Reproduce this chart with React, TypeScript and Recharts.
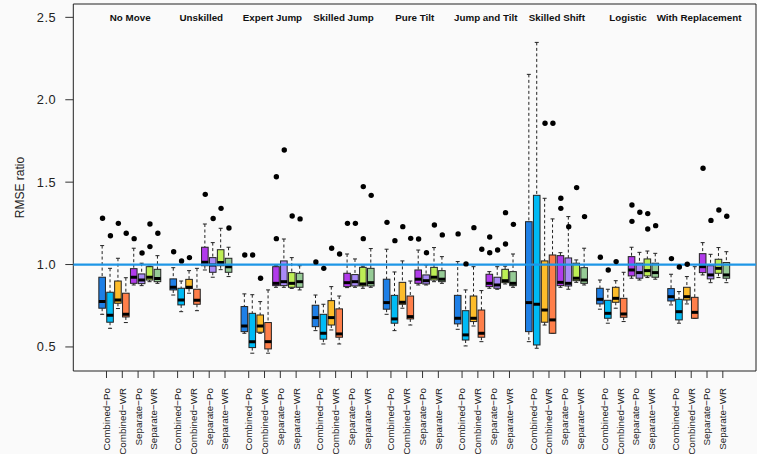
import React from "react";
import {
  ComposedChart,
  Bar,
  Scatter,
  XAxis,
  YAxis,
  ReferenceLine,
  ReferenceArea,
  ReferenceDot,
} from "recharts";

const FONT = "Liberation Sans, Arial, Helvetica, sans-serif";

const groups = [
  "No Move",
  "Unskilled",
  "Expert Jump",
  "Skilled Jump",
  "Pure Tilt",
  "Jump and Tilt",
  "Skilled Shift",
  "Logistic",
  "With Replacement",
];

const methodLabels = ["Combined−Po", "Combined−WR", "Separate−Po", "Separate−WR"];

const boxColors = [
  "#1E7FE6",
  "#00BBF5",
  "#FDBC2A",
  "#FF7F4A",
  "#B13BEB",
  "#A98AF7",
  "#BDEE55",
  "#96CB96",
];

// whisker low / q1 / median / q3 / whisker high, per group (8 boxes each)
const lows = [
  [0.698, 0.613, 0.733, 0.648, 0.876, 0.872, 0.896, 0.886],
  [0.815, 0.714, 0.826, 0.72, 0.967, 0.923, 0.969, 0.927],
  [0.583, 0.462, 0.583, 0.462, 0.862, 0.862, 0.855, 0.846],
  [0.599, 0.518, 0.603, 0.518, 0.86, 0.862, 0.856, 0.862],
  [0.698, 0.599, 0.735, 0.633, 0.876, 0.876, 0.896, 0.886],
  [0.607, 0.506, 0.627, 0.532, 0.856, 0.85, 0.882, 0.862],
  [0.532, 0.492, 0.633, 0.583, 0.862, 0.85, 0.892, 0.876],
  [0.729, 0.644, 0.735, 0.654, 0.917, 0.906, 0.921, 0.911],
  [0.755, 0.644, 0.761, 0.674, 0.937, 0.89, 0.921, 0.89],
];

const q1s = [
  [0.735, 0.65, 0.765, 0.682, 0.886, 0.884, 0.906, 0.896],
  [0.846, 0.755, 0.854, 0.759, 0.993, 0.953, 0.993, 0.953],
  [0.593, 0.496, 0.589, 0.488, 0.872, 0.872, 0.862, 0.862],
  [0.623, 0.547, 0.633, 0.559, 0.866, 0.87, 0.87, 0.87],
  [0.729, 0.644, 0.759, 0.67, 0.886, 0.882, 0.906, 0.896],
  [0.64, 0.542, 0.654, 0.559, 0.866, 0.856, 0.89, 0.872],
  [0.593, 0.512, 0.65, 0.583, 0.872, 0.87, 0.902, 0.886],
  [0.761, 0.674, 0.771, 0.68, 0.931, 0.917, 0.931, 0.923],
  [0.779, 0.664, 0.785, 0.674, 0.951, 0.913, 0.947, 0.917],
];

const medians = [
  [0.775, 0.692, 0.785, 0.698, 0.923, 0.906, 0.923, 0.915],
  [0.862, 0.785, 0.862, 0.783, 1.014, 0.997, 1.012, 0.987],
  [0.627, 0.532, 0.627, 0.532, 0.886, 0.896, 0.886, 0.896],
  [0.678, 0.583, 0.678, 0.579, 0.89, 0.896, 0.882, 0.89],
  [0.769, 0.67, 0.771, 0.684, 0.911, 0.902, 0.923, 0.911],
  [0.674, 0.573, 0.674, 0.583, 0.886, 0.876, 0.902, 0.886],
  [0.769, 0.759, 0.724, 0.664, 0.892, 0.886, 0.917, 0.906],
  [0.789, 0.704, 0.795, 0.7, 0.967, 0.951, 0.963, 0.951],
  [0.805, 0.714, 0.805, 0.71, 0.987, 0.937, 0.977, 0.937],
];

const q3s = [
  [0.923, 0.832, 0.9, 0.826, 0.975, 0.943, 0.987, 0.971],
  [0.913, 0.856, 0.91, 0.85, 1.105, 1.042, 1.09, 1.038],
  [0.745, 0.704, 0.694, 0.648, 0.987, 1.022, 0.951, 0.947],
  [0.753, 0.698, 0.781, 0.731, 0.947, 0.939, 0.983, 0.977],
  [0.911, 0.813, 0.892, 0.809, 0.967, 0.937, 0.983, 0.963],
  [0.813, 0.72, 0.809, 0.724, 0.941, 0.923, 0.971, 0.957],
  [1.26, 1.42, 1.022, 1.058, 1.054, 1.04, 1.008, 0.981],
  [0.856, 0.783, 0.862, 0.795, 1.048, 1.008, 1.034, 1.008],
  [0.854, 0.789, 0.862, 0.801, 1.066, 0.993, 1.032, 1.012],
];

const highs = [
  [1.115, 0.977, 1.038, 0.92, 1.099, 1.008, 0.99, 1.054],
  [0.981, 0.9, 0.963, 0.977, 1.246, 1.133, 1.22, 1.105],
  [0.822, 0.817, 0.775, 0.846, 0.995, 1.155, 1.042, 0.993],
  [0.815, 0.759, 0.866, 0.809, 1.064, 1.034, 0.99, 1.097],
  [1.093, 0.955, 1.022, 0.9, 1.088, 0.997, 1.103, 1.048],
  [1.018, 0.846, 0.987, 0.842, 0.957, 0.987, 0.99, 1.064],
  [2.154, 2.348, 1.402, 1.277, 1.072, 1.291, 1.028, 1.099],
  [0.906, 0.85, 0.902, 0.953, 1.105, 1.074, 1.082, 1.068],
  [0.941, 0.836, 0.927, 0.987, 1.133, 1.062, 1.103, 1.078],
];

const outliers = [
  [[1.281], [1.175], [1.25], [1.19], [1.157], [1.07], [1.246, 1.109], [1.19]],
  [[1.078], [1.022], [1.042], [], [1.426], [1.279], [1.341], [1.222]],
  [[1.058], [1.058], [0.917], [], [1.533, 1.157], [1.695], [1.295], [1.277]],
  [[1.016], [0.977], [1.099], [1.064], [1.25], [1.25], [1.473, 1.157], [1.42]],
  [[1.256], [1.145], [1.23], [1.159], [1.155], [1.072], [1.24], [1.18]],
  [[1.186], [1.004], [1.224], [1.093], [1.167, 1.072], [1.088], [1.315, 1.125], [1.244]],
  [[], [], [1.857], [1.857], [1.402, 1.341], [1.23], [1.467], [1.291]],
  [[1.044], [0.967], [1.018], [], [1.361, 1.262], [1.317], [1.309, 1.216], [1.236]],
  [[1.036], [0.985], [1.002], [], [1.584], [1.268], [1.331], [1.293]],
];

const yTicks = [0.5, 1, 1.5, 2, 2.5];

// slot positions: 8 boxes + 1 empty slot per group
const SLOTS = 9;
const X_DOMAIN = [-3.7, 82.7];
const Y_DOMAIN = [0.354, 2.581];

const boxData = [];
const outlierData = [];
groups.forEach((g, gi) => {
  for (let b = 0; b < 8; b++) {
    const x = gi * SLOTS + b;
    boxData.push({
      x,
      box: b,
      lo: lows[gi][b],
      q1: q1s[gi][b],
      med: medians[gi][b],
      q3: q3s[gi][b],
      hi: highs[gi][b],
    });
    outliers[gi][b].forEach((v) => outlierData.push({ x, y: v }));
  }
});

const pairTicks = [];
groups.forEach((g, gi) => {
  for (let k = 0; k < 4; k++) pairTicks.push(gi * SLOTS + k * 2 + 0.5);
});

const BoxShape = (props) => {
  const { x, y, width, height, payload } = props;
  if (!payload || x == null || y == null) return null;
  const { lo, q1, med, q3, hi, box } = payload;
  const top = Math.min(y, y + height);
  const bottom = Math.max(y, y + height);
  const py = (v) => top + ((bottom - top) * (hi - v)) / (hi - lo);
  const cx = x + width / 2;
  const hw = 3.3;
  const cap = 2;
  const edge = "#222";
  return (
    <g>
      <line x1={cx} x2={cx} y1={py(hi)} y2={py(q3)} stroke={edge} strokeDasharray="3 2.5" />
      <line x1={cx} x2={cx} y1={py(q1)} y2={py(lo)} stroke={edge} strokeDasharray="3 2.5" />
      <line x1={cx - cap} x2={cx + cap} y1={py(hi)} y2={py(hi)} stroke={edge} />
      <line x1={cx - cap} x2={cx + cap} y1={py(lo)} y2={py(lo)} stroke={edge} />
      <rect
        x={cx - hw}
        y={py(q3)}
        width={hw * 2}
        height={Math.max(py(q1) - py(q3), 0.5)}
        fill={boxColors[box]}
        stroke={edge}
        strokeWidth={1}
      />
      <line x1={cx - hw} x2={cx + hw} y1={py(med)} y2={py(med)} stroke="#000" strokeWidth={3} />
    </g>
  );
};

const OutlierDot = (props) => {
  const { cx, cy } = props;
  if (cx == null || cy == null) return null;
  return <circle cx={cx} cy={cy} r={2.7} fill="#000" />;
};

const MethodTick = (props) => {
  const { x, y, payload } = props;
  const idx = pairTicks.indexOf(payload.value);
  const label = methodLabels[((idx % 4) + 4) % 4];
  return (
    <g transform={`translate(${x},${y})`}>
      <text
        transform="rotate(-90)"
        x={-8}
        y={0}
        dy="0.35em"
        textAnchor="end"
        fontSize={9.8}
        fontFamily={FONT}
        fill="#222"
      >
        {label}
      </text>
    </g>
  );
};

const YLabel = (props) => {
  const vb = props.viewBox || { x: 8, y: 4, width: 65, height: 367 };
  const lx = vb.x + 11.5;
  const ly = vb.y + vb.height / 2;
  return (
    <text
      x={lx}
      y={ly}
      transform={`rotate(-90 ${lx} ${ly})`}
      textAnchor="middle"
      dominantBaseline="central"
      fontSize={12}
      fontFamily={FONT}
      fill="#222"
    >
      RMSE ratio
    </text>
  );
};

export default function App() {
  return (
    <div
      style={{
        position: "absolute",
        left: 0,
        top: 0,
        width: 757,
        height: 454,
        background: "#fafafa",
        overflow: "hidden",
      }}
    >
      <ComposedChart
        width={757}
        height={454}
        data={boxData}
        margin={{ top: 4, right: 1, bottom: 0, left: 8 }}
      >
        <XAxis
          type="number"
          dataKey="x"
          domain={X_DOMAIN}
          ticks={pairTicks}
          interval={0}
          allowDataOverflow
          axisLine={false}
          tickSize={7}
          tickMargin={2}
          tickLine={{ stroke: "#333" }}
          tick={<MethodTick />}
          height={83}
        />
        <YAxis
          type="number"
          domain={Y_DOMAIN}
          ticks={yTicks}
          allowDataOverflow
          axisLine={false}
          tickSize={8}
          tickMargin={9}
          tickLine={{ stroke: "#333" }}
          tickFormatter={(v) => v.toFixed(1)}
          tick={{ fontSize: 12.8, fill: "#222", fontFamily: FONT, letterSpacing: 0.6 }}
          width={65.3}
          label={{ content: YLabel }}
        />
        <ReferenceArea
          x1={X_DOMAIN[0]}
          x2={X_DOMAIN[1]}
          y1={Y_DOMAIN[0]}
          y2={Y_DOMAIN[1]}
          fill="none"
          fillOpacity={0}
          stroke="#222"
          strokeWidth={1}
          ifOverflow="extendDomain"
        />
        <Bar
          dataKey={(d) => [d.lo, d.hi]}
          barSize={8}
          shape={BoxShape}
          isAnimationActive={false}
        />
        <Scatter
          data={outlierData}
          dataKey="y"
          shape={OutlierDot}
          isAnimationActive={false}
        />
        <ReferenceLine y={1} stroke="#1E96E6" strokeWidth={2.2} />
        {groups.map((g, gi) => (
          <ReferenceDot
            key={g}
            x={gi * SLOTS + 3.5}
            y={2.5}
            r={0}
            fill="none"
            stroke="none"
            label={{
              value: g,
              position: "center",
              fontSize: 9.8,
              fontWeight: "bold",
              fontFamily: FONT,
              fill: "#111",
            }}
          />
        ))}
      </ComposedChart>
    </div>
  );
}
